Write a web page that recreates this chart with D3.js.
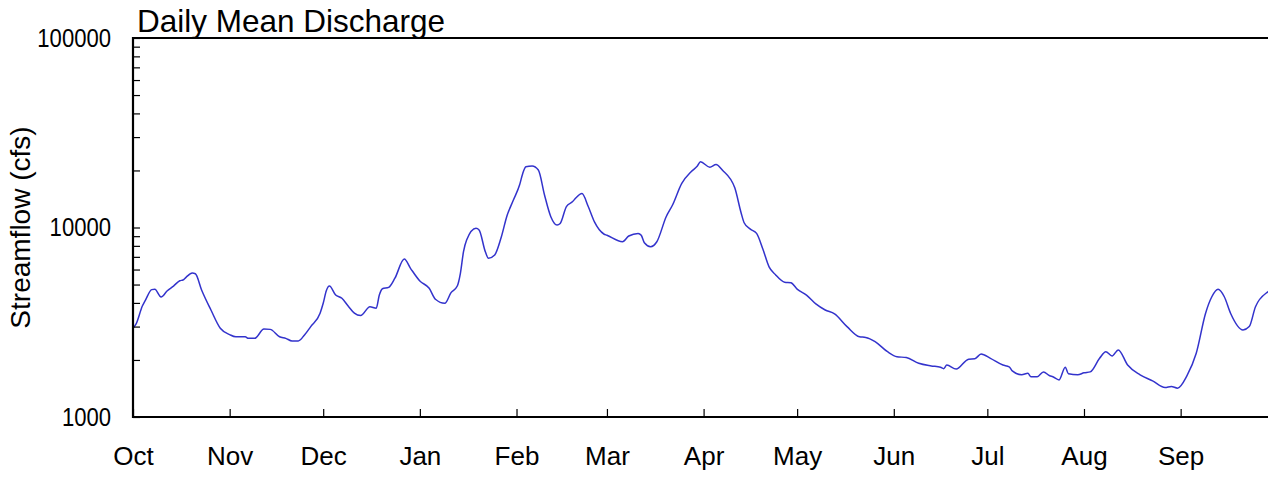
<!DOCTYPE html>
<html>
<head>
<meta charset="utf-8">
<script src="https://cdnjs.cloudflare.com/ajax/libs/d3/7.8.5/d3.min.js"></script>
<style>
	html, body { margin: 0; padding: 0; background: #fff; }
	svg { display: block; font-family: "Liberation Sans", Arial, sans-serif; }
</style>
</head>
<body>
<svg id="chart"></svg>
<script>
// ****** Data (water year, days counted from 1 Oct)
var startDate = new Date(Date.UTC(2011, 9, 1));
var endDate = new Date(Date.UTC(2012, 9, 1));
var dayOffsets = [0,1,3,4,6,7,9,11,13,15,16,17,19,20,22,25,28,31,33,36,37,39,42,44,47,49,51,53,55,57,
	60,61,62,63,65,67,69,71,73,76,78,79,80,82,84,87,89,92,95,97,100,102,104,105,106,107,110,111,113,114,
	116,118,120,122,124,125,126,128,130,132,134,136,137,139,141,142,144,146,148,151,152,157,159,162,163,164,166,168,
	171,173,176,179,181,182,185,187,189,193,195,196,198,200,202,204,206,209,211,213,216,219,222,225,229,233,235,238,
	242,245,248,252,256,259,260,261,264,268,270,272,275,279,281,282,285,287,288,290,292,294,295,297,299,300,303,305,307,
	310,312,314,316,319,323,327,331,333,335,338,341,344,346,348,350,352,356,358,360,364,365];
var flows = [2940,3100,3850,4140,4700,4720,4300,4640,4910,5240,5280,5460,5750,5700,4680,3670,2940,2720,2650,2650,2600,2600,2910,2900,2650,2600,2520,2520,2710,3000,
	3530,3980,4640,4910,4400,4230,3850,3530,3430,3820,3750,4400,4750,4830,5400,6820,6090,5220,4780,4180,3980,4530,4910,5730,7450,8590,9900,9700,7450,6880,
	7160,8770,11600,13960,16800,19300,20900,21100,20100,14800,11400,10300,10500,12900,13700,14300,15100,12900,10700,9240,9100,8410,9020,9310,9100,8310,7920,8410,
	11400,13100,17100,19700,21100,22200,20800,21500,20100,16200,12000,10600,9800,9310,7700,6200,5650,5140,5110,4730,4400,3950,3670,3500,3000,2650,2630,2500,
	2210,2080,2060,1920,1860,1830,1800,1880,1790,2020,2030,2150,2040,1880,1840,1750,1670,1700,1630,1630,1730,1650,1630,1570,1830,1690,1670,1710,1730,
	2040,2210,2100,2260,1880,1670,1550,1430,1450,1420,1650,2170,3530,4310,4720,4310,3530,2880,3000,3820,4580,4700];
var yTicks = [1000,2000,3000,4000,5000,6000,7000,8000,9000,
	10000,20000,30000,40000,50000,60000,70000,80000,90000,100000];
var yLabelTicks = [1000, 10000, 100000];
var titleText = 'Daily Mean Discharge';
var yAxisText = 'Streamflow (cfs)';

// ****** Layout
var width = 1268, height = 477;
var margin = { top: 38, left: 133, bottom: 60 };
var pxPerDay = 3.118;
var plotRight = margin.left + 366 * pxPerDay;	// runs past the window edge, as in the original
var plotBottom = height - margin.bottom;

var svg = d3.select('#chart')
	.attr('width', width)
	.attr('height', height);

svg.append('rect')
	.attr('width', width)
	.attr('height', height)
	.attr('fill', '#fff');

var data = dayOffsets.map(function(d, i) {
	return { date: d3.utcDay.offset(startDate, d), value: flows[i] };
});

var x = d3.scaleUtc()
	.domain([startDate, endDate])
	.range([margin.left, plotRight]);
var y = d3.scaleLog()
	.domain([1000, 100000])
	.range([plotBottom, margin.top]);

// ****** Series
var line = d3.line()
	.x(function(d) { return x(d.date); })
	.y(function(d) { return y(d.value); })
	.curve(d3.curveMonotoneX);

svg.append('path')
	.datum(data)
	.attr('d', line)
	.attr('fill', 'none')
	.attr('stroke', '#3333cc')
	.attr('stroke-width', 1.5)
	.attr('stroke-linejoin', 'round');

// ****** Axes
var yPad = 22;
var yAxis = d3.axisLeft(y)
	.tickValues(yTicks)
	.tickSize(-7)
	.tickPadding(yPad)
	.tickFormat(function(d) { return yLabelTicks.indexOf(d) >= 0 ? d : ''; });

var gy = svg.append('g')
	.attr('transform', 'translate(' + margin.left + ',0)')
	.call(yAxis);
gy.select('.domain').remove();
gy.selectAll('.tick line').attr('stroke', '#000').attr('stroke-width', 1.2);
// numbers in the original are a narrow face: squeeze around the right-aligned anchor
gy.selectAll('.tick text')
	.attr('fill', '#000')
	.style('font-size', '26px')
	.attr('transform', 'translate(' + (-yPad) + ',0) scale(0.85,1) translate(' + yPad + ',0)');

var xAxis = d3.axisBottom(x)
	.ticks(d3.utcMonth.every(1))
	.tickSize(-8)
	.tickPadding(30)
	.tickFormat(d3.utcFormat('%b'));

var gx = svg.append('g')
	.attr('transform', 'translate(0,' + plotBottom + ')')
	.call(xAxis);
gx.select('.domain').remove();
gx.selectAll('.tick line').attr('stroke', '#000').attr('stroke-width', 1.2);
gx.selectAll('.tick text')
	.attr('fill', '#000')
	.style('font-size', '26px');
// last month boundary is off the chart
gx.selectAll('.tick').filter(function(d) { return +d >= +endDate; }).remove();

// ****** Frame (left, top, bottom)
svg.append('path')
	.attr('d', 'M' + plotRight + ',' + margin.top + 'H' + margin.left + 'V' + plotBottom + 'H' + plotRight)
	.attr('fill', 'none')
	.attr('stroke', '#000')
	.attr('stroke-width', 2.2);

// ****** Titles
svg.append('text')
	.attr('x', 137)
	.attr('y', 32)
	.style('font-size', '31.5px')
	.attr('fill', '#000')
	.text(titleText);

svg.append('text')
	.attr('transform', 'translate(30,' + ((margin.top + plotBottom) / 2) + ') rotate(-90)')
	.attr('text-anchor', 'middle')
	.style('font-size', '28px')
	.attr('fill', '#000')
	.text(yAxisText);
</script>
</body>
</html>
